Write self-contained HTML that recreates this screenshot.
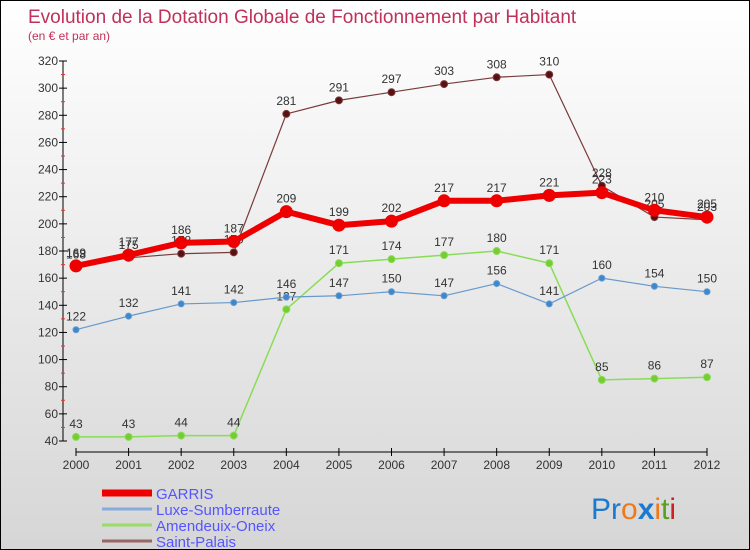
<!DOCTYPE html>
<html><head><meta charset="utf-8"><style>
body{margin:0}
#c{width:750px;height:550px;position:relative;box-sizing:border-box;border:1px solid #000;background:linear-gradient(#fff,#d6d6d6);font-family:"Liberation Sans",sans-serif;overflow:hidden}
</style></head><body>
<div id="c">
<svg id="s" width="750" height="550" style="position:absolute;left:0;top:0">
<text x="27" y="22" font-size="19" fill="#c0305a">Evolution de la Dotation Globale de Fonctionnement par Habitant</text>
<text x="27" y="39" font-size="12" fill="#c0305a">(en € et par an)</text>
<text x="590" y="518" font-size="30" font-family="Liberation Sans"><tspan fill="#1a7ad0">Pr</tspan><tspan fill="#f07818">o</tspan><tspan fill="#1a7ad0" font-weight="bold">x</tspan><tspan fill="#f07818">i</tspan><tspan fill="#58a020">t</tspan><tspan fill="#d02020">i</tspan></text>
</svg>
</div>
<script>
const years=[2000,2001,2002,2003,2004,2005,2006,2007,2008,2009,2010,2011,2012];
const yTicks=[40,60,80,100,120,140,160,180,200,220,240,260,280,300,320];
const garris=[169,177,186,187,209,199,202,217,217,221,223,210,205];
const luxe=[122,132,141,142,146,147,150,147,156,141,160,154,150];
const amendeuix=[43,43,44,44,137,171,174,177,180,171,85,86,87];
const saintPalais=[168,175,178,179,281,291,297,303,308,310,228,205,203];
const names=["GARRIS","Luxe-Sumberraute","Amendeuix-Oneix","Saint-Palais"];
const NS="http://www.w3.org/2000/svg";
const s=document.getElementById('s');
const X=i=>75+i*(706-75)/(years.length-1);
const Y=v=>440-(v-40)*(380/280);
function el(t,a,p){const e=document.createElementNS(NS,t);for(const k in a)e.setAttribute(k,a[k]);(p||s).appendChild(e);return e;}
// axes
let ya=el('line',{x1:62,y1:60,x2:62,y2:440,stroke:'#000'});


let xa=el('line',{x1:75,y1:451,x2:706,y2:451,stroke:'#000'});


yTicks.forEach(v=>{
 el('line',{x1:58,y1:Y(v),x2:66,y2:Y(v),stroke:'#000'});
 if(v<320) el('line',{x1:60,y1:Y(v+10),x2:64,y2:Y(v+10),stroke:'#e33'});
 const t=el('text',{x:57,y:Y(v)+4,'font-size':12,fill:'#333','text-anchor':'end'});
 t.textContent=v;
 
 
});
years.forEach((yr,i)=>{
 el('line',{x1:X(i),y1:447,x2:X(i),y2:455,stroke:'#000'});
 const t=el('text',{x:X(i),y:468,'font-size':12,fill:'#333','text-anchor':'middle'});
 t.textContent=yr;
 
 
});
function series(data,color,dot,w,r,name){
 const g=el('g',{});
 
 
 el('polyline',{points:data.map((v,i)=>X(i)+','+Y(v)).join(' '),fill:'none',stroke:color,'stroke-width':w,'stroke-linejoin':'round'},g);
 data.forEach((v,i)=>{
  el('circle',{cx:X(i),cy:Y(v),r:r,fill:dot,stroke:color,'stroke-width':1},g);
  const t=el('text',{x:X(i),y:Y(v)-9,'font-size':12,fill:'#333','text-anchor':'middle'},g);
  t.textContent=v;
 });
}
series(amendeuix,'#88dd55','#77cc33',1.5,3.5,'series-amendeuix-oneix');
series(luxe,'#6699cc','#3b88d0',1.2,3,'series-luxe-sumberraute');
series(saintPalais,'#7a3a3a','#5a1010',1.2,3.5,'series-saint-palais');
series(garris,'#ee0000','#ee0000',6,6,'series-garris');
const lc=['#ee0000','#88aadd','#99dd66','#996666'],lw=[7,3,3,3];
names.forEach((n,i)=>{
 const y=492+i*16;
 el('line',{x1:101,y1:y,x2:151,y2:y,stroke:lc[i],'stroke-width':lw[i]});
 const t=el('text',{x:155,y:y+6,'font-size':15,fill:'#5555ff'});
 t.textContent=n;
 
 
});
</script>
</body></html>
